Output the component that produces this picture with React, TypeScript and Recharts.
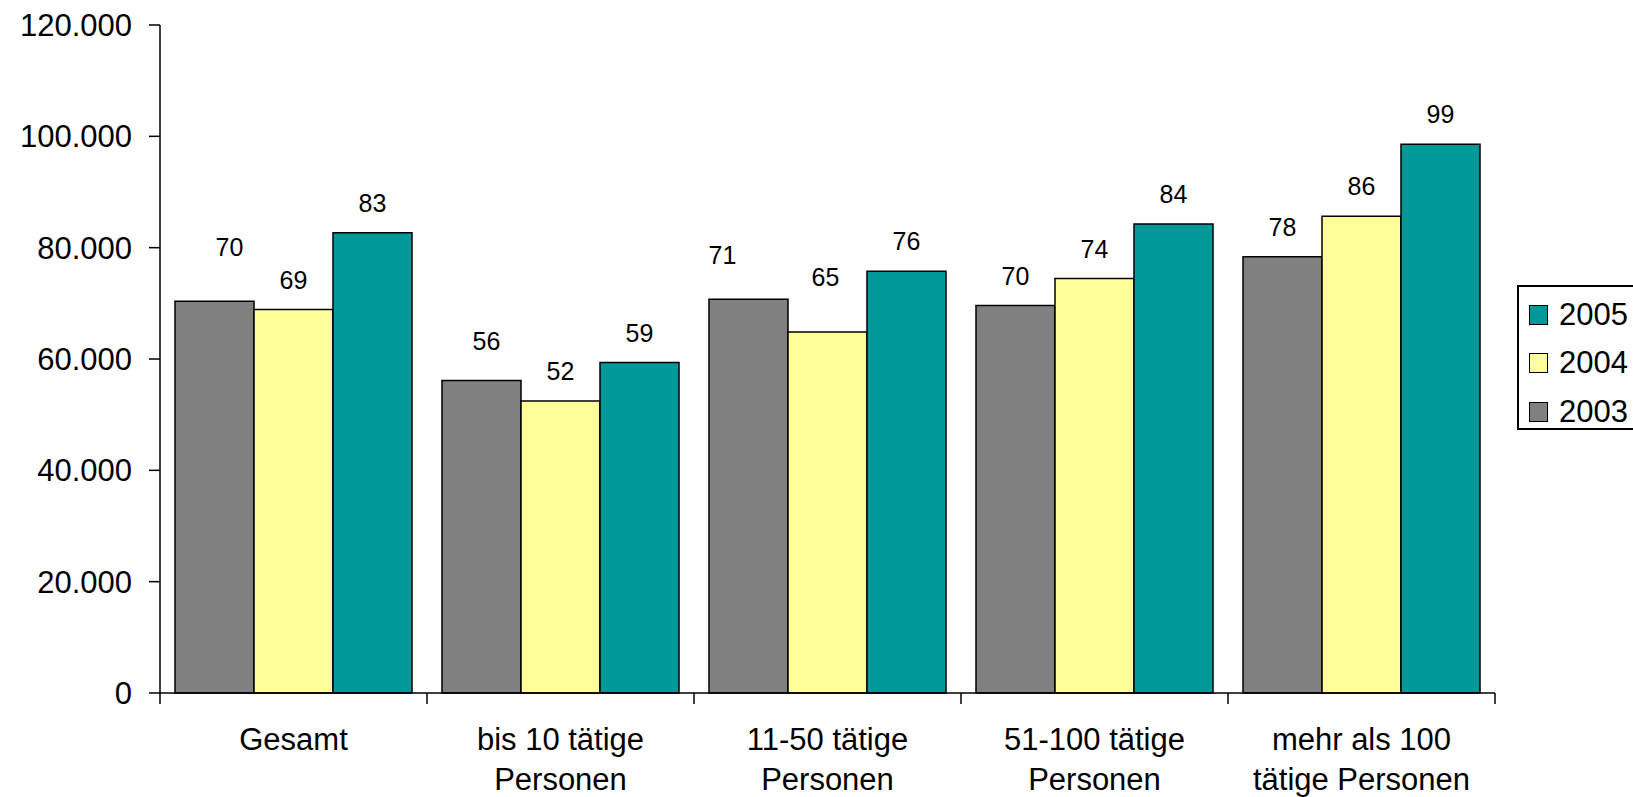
import React from 'react';
import { BarChart, Bar, XAxis, YAxis } from 'recharts';

const categories = [
  'Gesamt',
  'bis 10 tätige\nPersonen',
  '11-50 tätige\nPersonen',
  '51-100 tätige\nPersonen',
  'mehr als 100\ntätige Personen',
];
const values2003 = [70360, 56120, 70720, 69590, 78390];
const values2004 = [68870, 52450, 64850, 74440, 85630];
const values2005 = [82700, 59350, 75750, 84250, 98600];
const yTicks = [0, 20000, 40000, 60000, 80000, 100000, 120000];
const seriesKeys = ['s2003', 's2004', 's2005'];
const seriesNames = ['2003', '2004', '2005'];
const seriesColors = ['#808080', '#FFFF99', '#009999'];

const data = categories.map((c, i) => ({
  category: c,
  s2003: values2003[i],
  s2004: values2004[i],
  s2005: values2005[i],
}));

const FONT = '"Liberation Sans", Arial, sans-serif';
const W = 1633;
const H = 797;
const PLOT_LEFT = 160;
const PLOT_RIGHT_MARGIN = 138;
const BAND = (W - PLOT_LEFT - PLOT_RIGHT_MARGIN) / categories.length;

// manual label nudges (as in the original chart)
const labelNudge: Record<string, { dx: number; lift: number }> = {
  's2003-0': { dx: 15, lift: 24 },
  's2003-1': { dx: 5, lift: 10 },
  's2003-2': { dx: -26, lift: 14 },
  's2004-2': { dx: -2, lift: 25 },
};

const fmt = (v: number) => String(v).replace(/\B(?=(\d{3})+(?!\d))/g, '.');

const makeLabel = (key: string) => (props: any) => {
  const { x, y, width, value, index } = props;
  const n = labelNudge[`${key}-${index}`] || { dx: 0, lift: 0 };
  return (
    <text
      x={Number(x) + Number(width) / 2 + n.dx}
      y={Number(y) - 21 - n.lift}
      textAnchor="middle"
      fontSize={25}
      fontFamily={FONT}
      fill="#000"
    >
      {Math.round(Number(value) / 1000)}
    </text>
  );
};

const XTick = (props: any) => {
  const { x, y, payload, index } = props;
  const lines = String(payload.value).split('\n');
  const axisY = y;
  return (
    <g>
      <line x1={x - BAND / 2} x2={x - BAND / 2} y1={axisY} y2={axisY + 11} stroke="#000" strokeWidth={1.5} />
      {index === categories.length - 1 && (
        <line x1={x + BAND / 2} x2={x + BAND / 2} y1={axisY} y2={axisY + 11} stroke="#000" strokeWidth={1.5} />
      )}
      <text x={x} y={axisY + 57} textAnchor="middle" fontSize={31} fontFamily={FONT} fill="#000">
        {lines.map((l, i) => (
          <tspan key={i} x={x} dy={i === 0 ? 0 : 40}>
            {l}
          </tspan>
        ))}
      </text>
    </g>
  );
};

const legendOrder = [2, 1, 0];

export default function App() {
  return (
    <div style={{ position: 'absolute', left: 0, top: 0, width: W, height: H, overflow: 'hidden', background: '#fff' }}>
      <BarChart
        width={W}
        height={H}
        data={data}
        margin={{ top: 25, right: PLOT_RIGHT_MARGIN, bottom: 0, left: 0 }}
        barCategoryGap={15}
        barGap={0}
      >
        <YAxis
          width={PLOT_LEFT}
          domain={[0, 120000]}
          ticks={yTicks}
          interval={0}
          tickFormatter={fmt}
          axisLine={{ stroke: '#000', strokeWidth: 1.5 }}
          tickLine={{ stroke: '#000', strokeWidth: 1.5 }}
          tickSize={11}
          tickMargin={17}
          tick={{ fill: '#000', fontSize: 31, fontFamily: FONT }}
        />
        <XAxis
          dataKey="category"
          height={104}
          interval={0}
          tickLine={false}
          tickSize={0}
          tickMargin={0}
          axisLine={{ stroke: '#000', strokeWidth: 1.5 }}
          tick={<XTick />}
        />
        {seriesKeys.map((k, i) => (
          <Bar
            key={k}
            dataKey={k}
            name={seriesNames[i]}
            fill={seriesColors[i]}
            stroke="#000"
            strokeWidth={1.5}
            isAnimationActive={false}
            label={makeLabel(k)}
          />
        ))}
      </BarChart>
      <div
        style={{
          position: 'absolute',
          left: 1517,
          top: 285,
          width: 130,
          height: 145,
          border: '2px solid #000',
          boxSizing: 'border-box',
          background: '#fff',
        }}
      >
        {legendOrder.map((si, row) => (
          <div key={si} style={{ position: 'absolute', left: 0, top: 27.5 + row * 48.5 - 20, height: 40, width: 130 }}>
            <div
              style={{
                position: 'absolute',
                left: 10,
                top: 10,
                width: 19,
                height: 20,
                boxSizing: 'border-box',
                border: '1.5px solid #000',
                background: seriesColors[si],
              }}
            />
            <div
              style={{
                position: 'absolute',
                left: 40,
                top: 0,
                height: 40,
                lineHeight: '40px',
                fontSize: 31,
                fontFamily: FONT,
                color: '#000',
                whiteSpace: 'nowrap',
              }}
            >
              {seriesNames[si]}
            </div>
          </div>
        ))}
      </div>
    </div>
  );
}
